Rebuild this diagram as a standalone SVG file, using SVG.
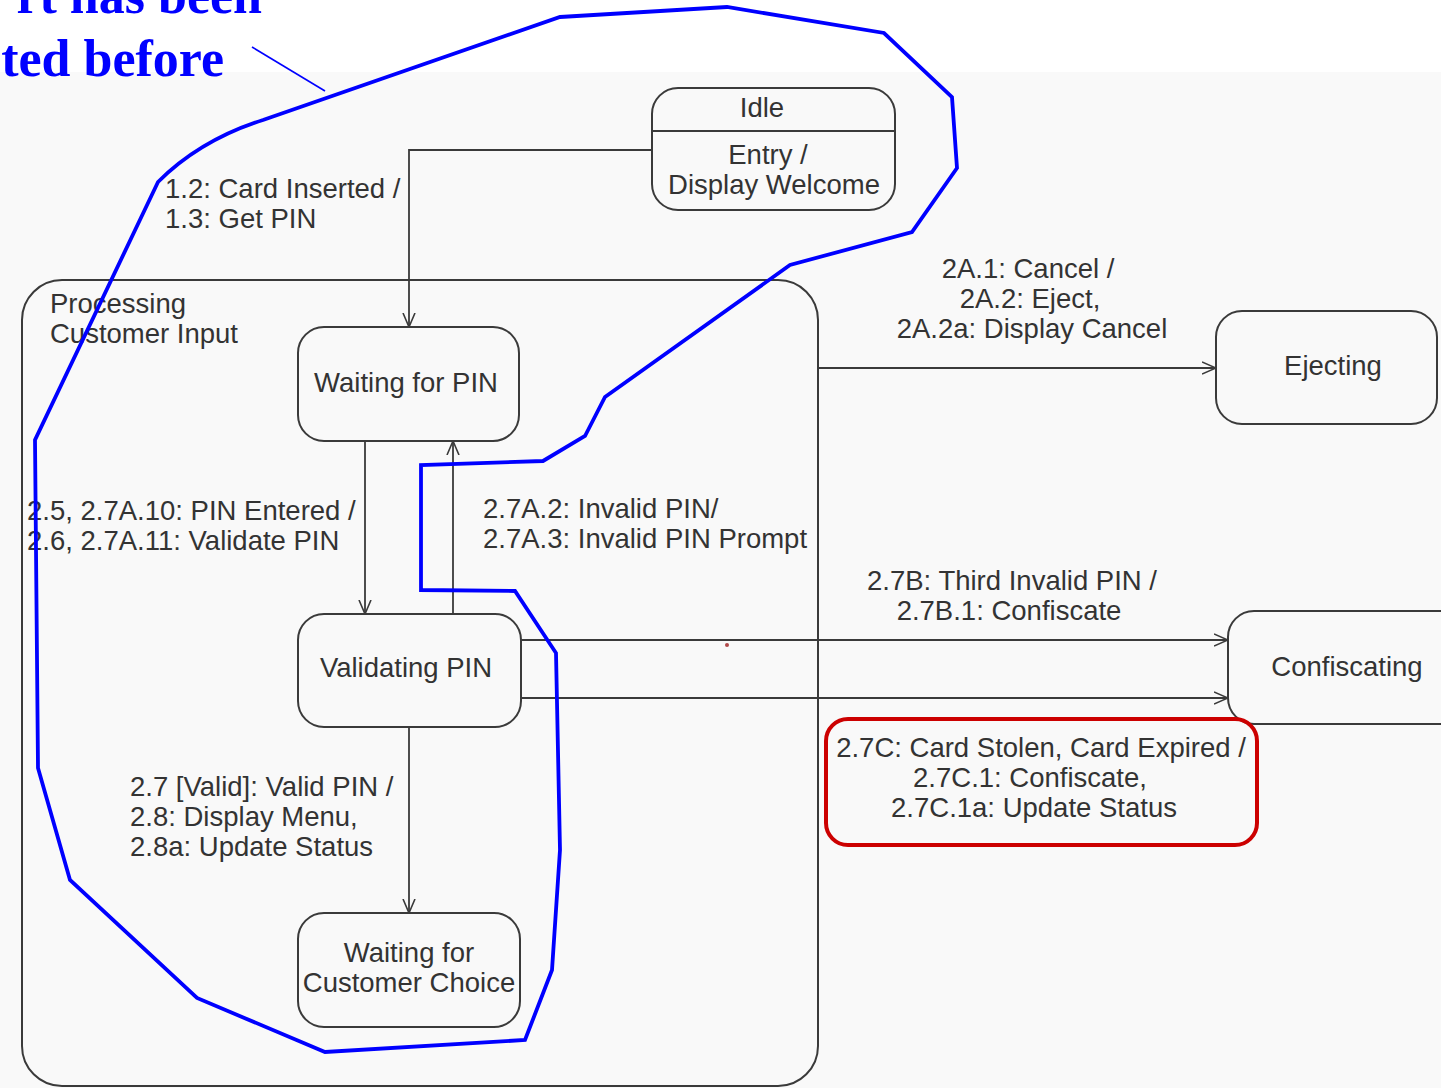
<svg xmlns="http://www.w3.org/2000/svg" width="1441" height="1088" viewBox="0 0 1441 1088">
<defs>
<style>
.t{font-family:"Liberation Sans",Arial,sans-serif;font-size:27.5px;fill:#333}
.c{text-anchor:middle}
.box{fill:none;stroke:#3a3a3a;stroke-width:2}
.ln{fill:none;stroke:#3a3a3a;stroke-width:1.8}
.blue{fill:none;stroke:#0000ff;stroke-width:3.8;stroke-linejoin:miter}
.note{font-family:"Liberation Serif","Times New Roman",serif;font-weight:bold;font-size:52px;fill:#0000ff;text-anchor:end}
</style>
<marker id="arr" viewBox="0 0 14 14" refX="14" refY="7" markerWidth="14" markerHeight="14" orient="auto" markerUnits="userSpaceOnUse">
<path d="M0,1 L14,7 L0,13" fill="none" stroke="#3a3a3a" stroke-width="1.6"/>
</marker>
</defs>
<rect x="0" y="0" width="1441" height="1088" fill="#ffffff"/>
<rect x="0" y="72" width="1441" height="1016" fill="#f9f9f9"/>

<g id="superstate-processing">
<rect class="box" x="22" y="280" width="796" height="806" rx="40"/>
<text class="t" x="50" y="313">Processing</text>
<text class="t" x="50" y="343">Customer Input</text>
</g>

<g id="idle">
<rect class="box" x="652" y="88" width="243" height="122" rx="26"/>
<line class="box" x1="652" y1="131" x2="895" y2="131"/>
<text class="t c" x="762" y="117">Idle</text>
<text class="t c" x="768" y="164">Entry /</text>
<text class="t c" x="774" y="194">Display Welcome</text>
</g>

<g id="waiting-for-pin">
<rect class="box" x="298" y="327" width="221" height="114" rx="26"/>
<text class="t c" x="406" y="392">Waiting for PIN</text>
</g>

<g id="validating-pin">
<rect class="box" x="298" y="614" width="223" height="113" rx="26"/>
<text class="t c" x="406" y="677">Validating PIN</text>
</g>

<g id="waiting-for-customer-choice">
<rect class="box" x="298" y="913" width="222" height="114" rx="26"/>
<text class="t c" x="409" y="962">Waiting for</text>
<text class="t c" x="409" y="992">Customer Choice</text>
</g>

<g id="ejecting">
<rect class="box" x="1216" y="311" width="221" height="113" rx="26"/>
<text class="t c" x="1333" y="375">Ejecting</text>
</g>

<g id="confiscating">
<rect class="box" x="1228" y="611" width="240" height="113" rx="26"/>
<text class="t c" x="1347" y="676">Confiscating</text>
</g>

<g id="connectors">
<path class="ln" d="M652,150 L409,150 L409,327" marker-end="url(#arr)"/>
<path class="ln" d="M365,441 L365,614" marker-end="url(#arr)"/>
<path class="ln" d="M453,614 L453,441" marker-end="url(#arr)"/>
<path class="ln" d="M409,727 L409,913" marker-end="url(#arr)"/>
<path class="ln" d="M818,368 L1216,368" marker-end="url(#arr)"/>
<path class="ln" d="M521,640 L1228,640" marker-end="url(#arr)"/>
<path class="ln" d="M521,698 L1228,698" marker-end="url(#arr)"/>
<circle cx="727" cy="645" r="2" fill="#b04848"/>
</g>

<g id="labels">
<text class="t" x="165" y="198">1.2: Card Inserted /</text>
<text class="t" x="165" y="228">1.3: Get PIN</text>
<text class="t" x="27" y="520">2.5, 2.7A.10: PIN Entered /</text>
<text class="t" x="27" y="550">2.6, 2.7A.11: Validate PIN</text>
<text class="t" x="483" y="518">2.7A.2: Invalid PIN/</text>
<text class="t" x="483" y="548">2.7A.3: Invalid PIN Prompt</text>
<text class="t" x="130" y="796">2.7 [Valid]: Valid PIN /</text>
<text class="t" x="130" y="826">2.8: Display Menu,</text>
<text class="t" x="130" y="856">2.8a: Update Status</text>
<text class="t c" x="1028" y="278">2A.1: Cancel /</text>
<text class="t c" x="1030" y="308">2A.2: Eject,</text>
<text class="t c" x="1032" y="338">2A.2a: Display Cancel</text>
<text class="t c" x="1012" y="590">2.7B: Third Invalid PIN /</text>
<text class="t c" x="1009" y="620">2.7B.1: Confiscate</text>
<text class="t c" x="1041" y="757">2.7C: Card Stolen, Card Expired /</text>
<text class="t c" x="1030" y="787">2.7C.1: Confiscate,</text>
<text class="t c" x="1034" y="817">2.7C.1a: Update Status</text>
</g>

<g id="annotations">
<rect x="826" y="719" width="431" height="126" rx="22" fill="none" stroke="#cc0000" stroke-width="4"/>
<path class="blue" d="M560,17 L727,7 L884,33 L952,97 L957,168 L912,232 L790,265 L605,397 L585,436 L543,461 L421,465 L421,590 L515,591 L556,653 L560,850 L552,970 L525,1040 L325,1052 L197,998 L70,880 L38,768 L35,440 L158,182 Q200,140 263,120 Z"/>
<line x1="252" y1="47" x2="325" y2="91" stroke="#0000ff" stroke-width="1.6"/>
<text class="note" x="262" y="13">rt has been</text>
<text class="note" x="224" y="76">ted before</text>
</g>
</svg>
